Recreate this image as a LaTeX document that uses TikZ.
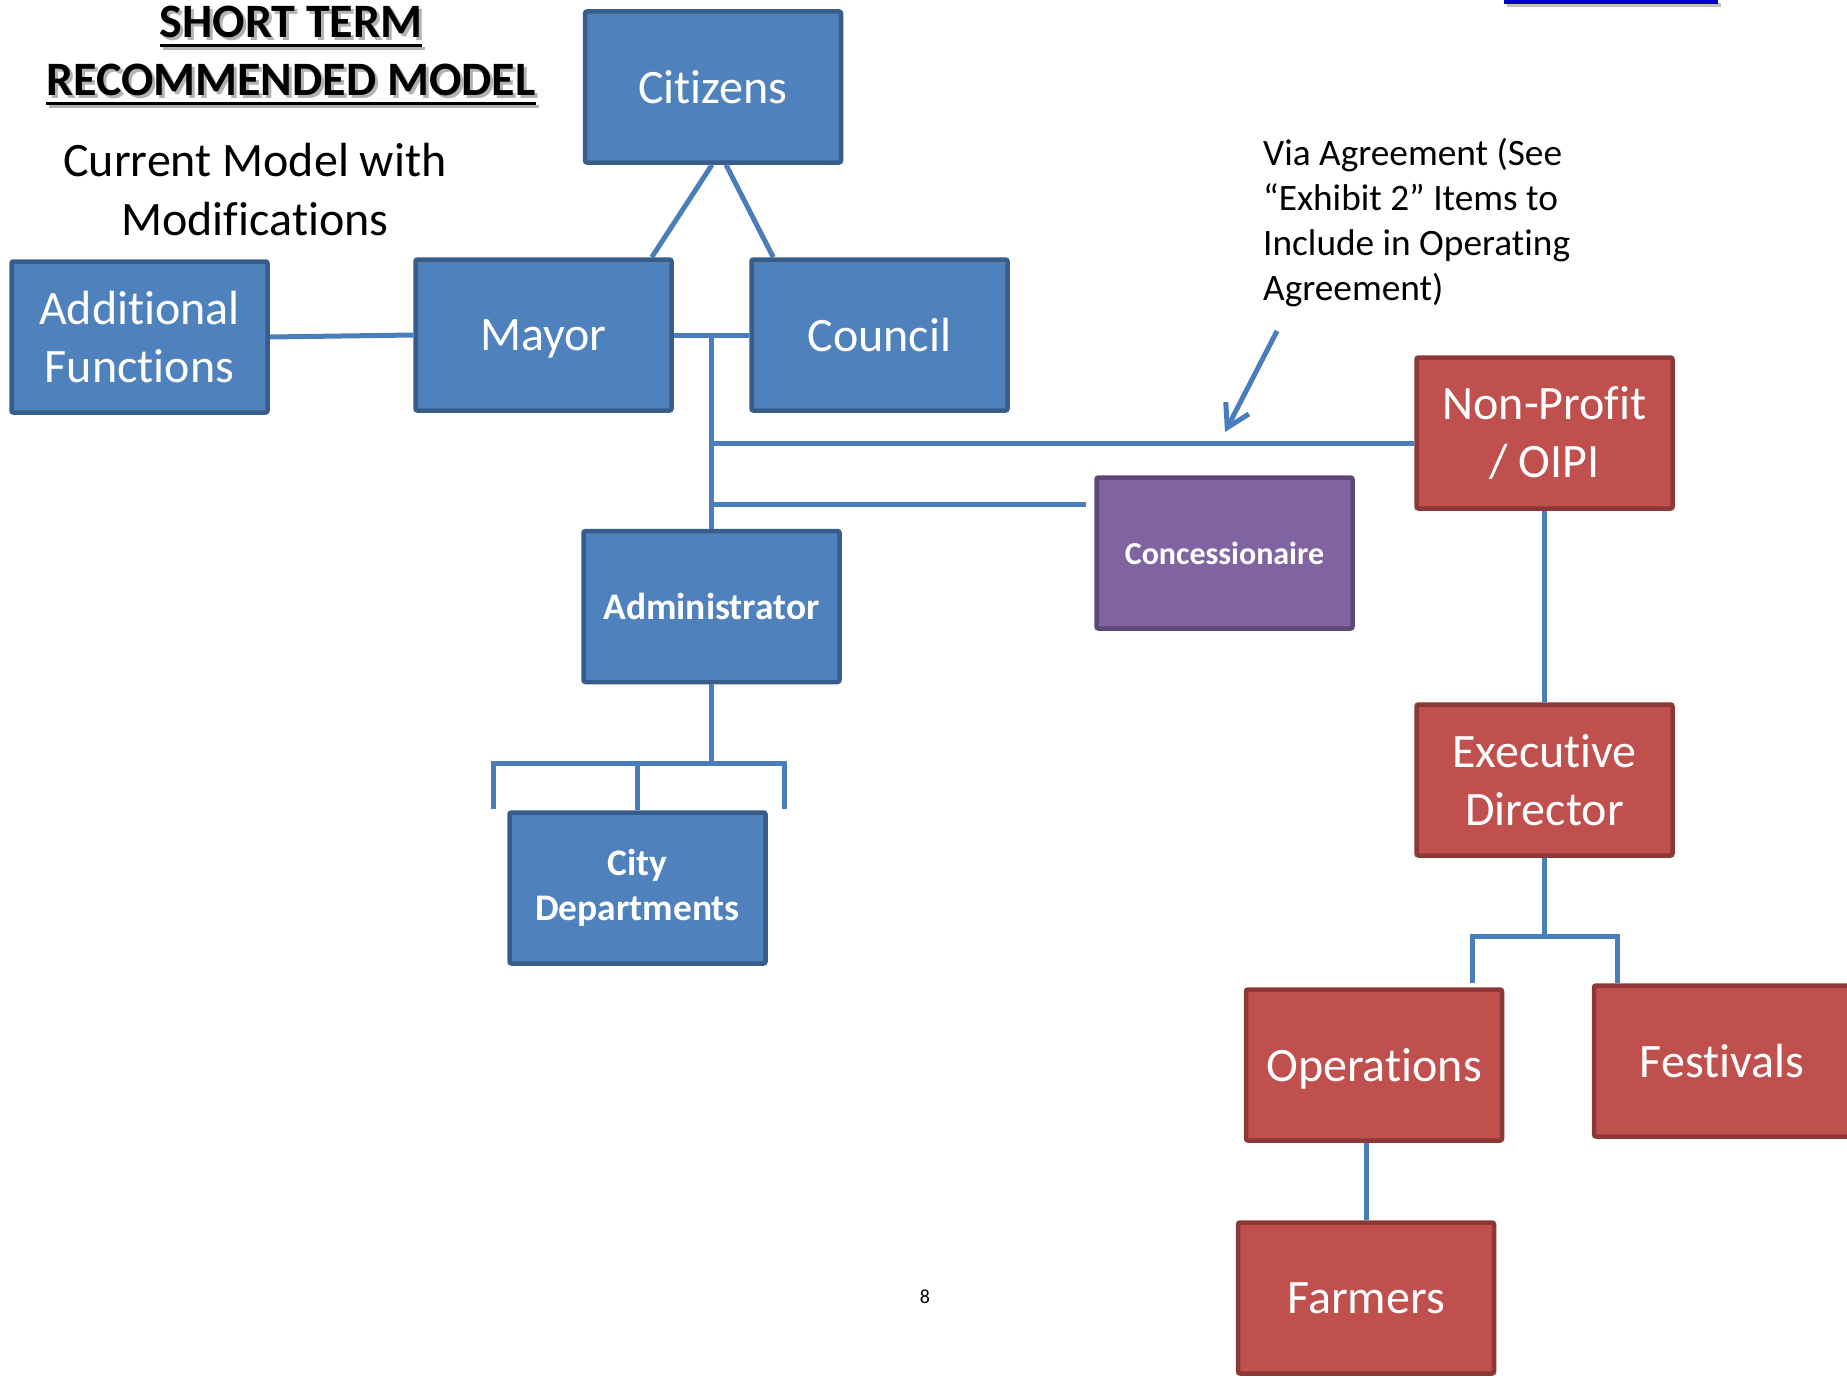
\documentclass[tikz,border=0pt]{standalone}
\usepackage{fontspec}
\setmainfont{Carlito}[Ligatures=NoCommon]
\usetikzlibrary{arrows.meta,calc}
\definecolor{boxblue}{RGB}{79,129,189}
\definecolor{edgeblue}{RGB}{56,93,138}
\definecolor{boxred}{RGB}{192,80,77}
\definecolor{edgered}{RGB}{140,56,54}
\definecolor{boxpurple}{RGB}{128,100,162}
\definecolor{edgepurple}{RGB}{92,71,118}
\definecolor{linkblue}{RGB}{74,126,187}
\definecolor{hyperblue}{RGB}{0,0,204}
\newcommand{\bigtext}{\fontsize{48}{58}\selectfont}
\newcommand{\boldtext}{\fontsize{37.5}{45}\selectfont\bfseries}
\newcommand{\ulshadow}[1]{\setbox0\hbox{#1}%
  \rlap{\kern3pt\raisebox{-3pt}{\color{black!30}\copy0\llap{\rule[-9pt]{\wd0}{3pt}}}}%
  \rlap{\rule[-9pt]{\wd0}{3pt}}\box0}

\begin{document}
\begin{tikzpicture}[x=1pt,y=1pt,yscale=-1,
    box/.style={draw=edgeblue,fill=boxblue,line width=4.5pt,rounded corners=2pt,
      minimum width=256pt,minimum height=151pt,text=white,align=center,font=\bigtext},
    oneline/.style={text depth=0pt},
    redbox/.style={box,draw=edgered,fill=boxred},
    link/.style={draw=linkblue,line width=5pt}]
  \useasboundingbox (0,0) rectangle (1847,1381);
  % headings
  \node (title) at (291,6) [anchor=north,inner sep=0,align=center,
    font=\fontsize{48}{58}\selectfont\bfseries] {\ulshadow{SHORT TERM}\\\ulshadow{RECOMMENDED MODEL}};
  \node (sub) at (255,143) [anchor=north,inner sep=0,align=center,
    font=\fontsize{48}{59}\selectfont] {Current Model with\\Modifications};
  \draw [line width=4pt,black!25] (1507,5) -- (1721,5);
  \draw [line width=4pt,hyperblue] (1504,2) -- (1718,2);
  % city side
  \node (cit) at (713,87) [box,oneline] {Citizens};
  \node (add) at (139.5,337) [box] {Additional\\Functions};
  \node (mayor) at (543.5,335) [box,oneline] {Mayor};
  \node (council) at (879.5,335) [box,oneline] {Council};
  \node (admin) at (711.5,606.5) [box,font=\boldtext] {Administrator};
  \node (dept) at (637.5,888) [box,font=\boldtext] {City\\Departments};
  \node (conc) at (1224.5,553) [box,draw=edgepurple,fill=boxpurple,
    font=\fontsize{32}{38}\selectfont\bfseries] {Concessionaire};
  % non-profit side
  \node (np) at (1544.5,433) [redbox] {Non-Profit\\/ OIPI};
  \node (exec) at (1544.5,780) [redbox] {Executive\\Director};
  \node (ops) at (1374,1065) [redbox,oneline] {Operations};
  \node (fest) at (1722,1061) [redbox,oneline] {Festivals};
  \node (farm) at (1366,1298) [redbox,oneline] {Farmers};
  \node (via) at (1263,138) [anchor=north west,inner sep=0,align=left,
    font=\fontsize{37.3}{45}\selectfont] {Via Agreement (See\\“Exhibit 2” Items to\\Include in Operating\\Agreement)};
  \node (page) at (925,1303) [anchor=base,inner sep=0,font=\fontsize{20}{24}\selectfont] {8};
  % connectors
  \coordinate (hub) at ($(mayor.east)!.5!(council.west)$);
  \coordinate (concin) at ([shift={(-8pt,29pt)}]conc.north west);
  \coordinate (deptbar) at ([yshift=-47pt]dept.north);
  \coordinate (execbar) at ([yshift=79pt]exec.south);
  \draw [link] (add.east) -- (mayor.west);
  \draw [link] ([xshift=-1pt]cit.south) -- ([xshift=-22pt]mayor.north east);
  \draw [link] ([xshift=13pt]cit.south) -- ([xshift=24pt]council.north west);
  \draw [link] (mayor.east) -- (council.west);
  \draw [link] (hub) -- (admin.north);
  \draw [link] (hub |- np.west) ++(0,10) -- ([yshift=10pt]np.west);
  \draw [link] (hub |- concin) -- (concin);
  \draw [link] (admin.south) -- (admin.south |- deptbar);
  \draw [link] ([xshift=-144pt]deptbar) ++(0,46) -- ++(0,-46) -- ([xshift=147pt]deptbar) -- ++(0,46);
  \draw [link] (deptbar) -- (dept.north);
  \draw [link] (np.south) -- (exec.north);
  \draw [link] (exec.south) -- (execbar);
  \draw [link] ([xshift=-72pt]execbar) ++(0,46) -- ++(0,-46) -- ([xshift=73pt]execbar) -- ++(0,46);
  \draw [link] (ops.south -| farm.north) -- (farm.north);
  \coordinate (viatail) at ([shift={(14pt,193pt)}]via.north west);
  \coordinate (viatip) at ([shift={(-38pt,294pt)}]via.north west);
  \draw [link,-{Straight Barb[length=22pt,width=26pt]}] (viatail) -- (viatip);
\end{tikzpicture}
\end{document}
